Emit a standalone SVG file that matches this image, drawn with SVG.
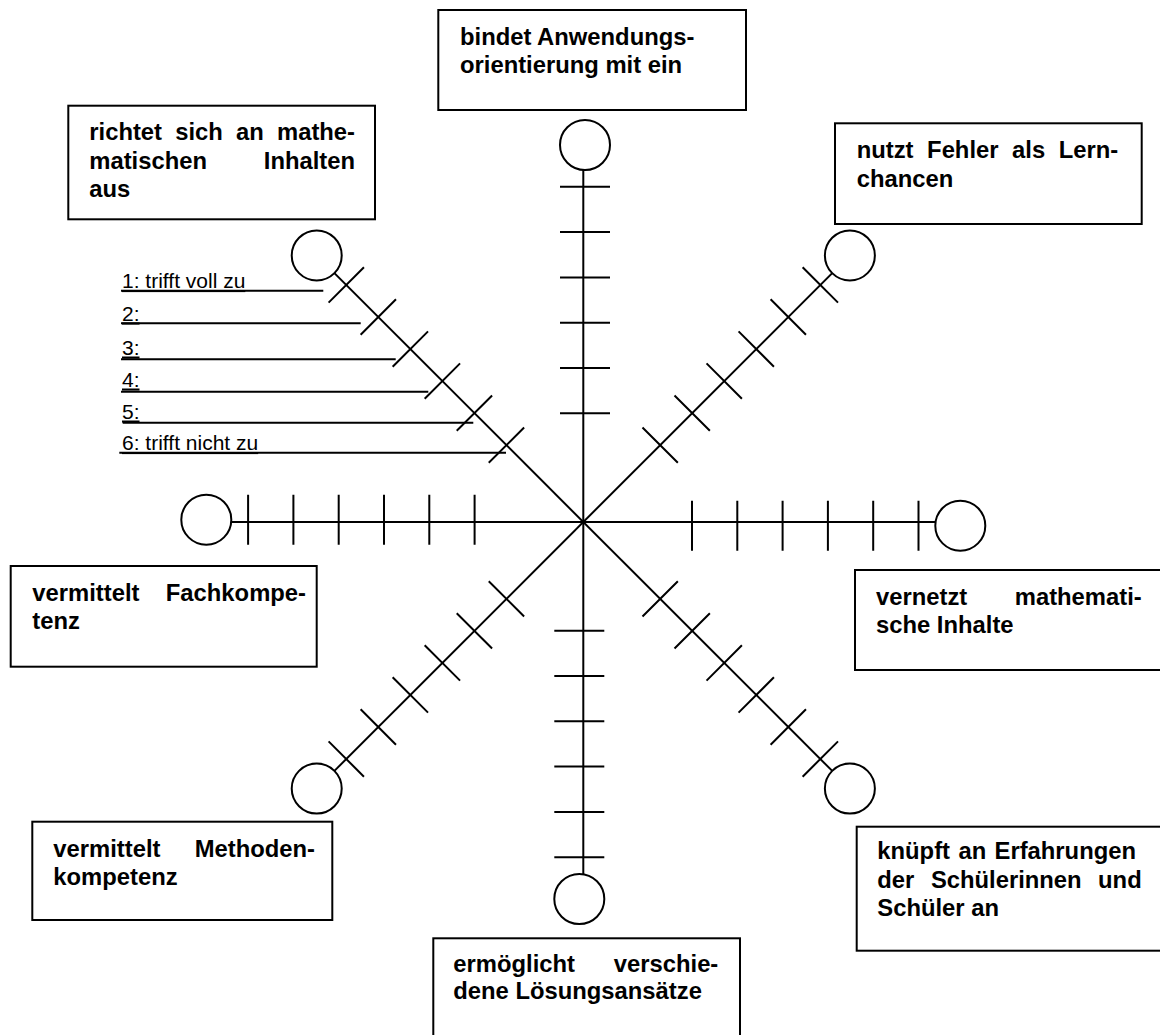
<svg xmlns="http://www.w3.org/2000/svg" xmlns:xlink="http://www.w3.org/1999/xlink" width="1160" height="1035" viewBox="0 0 1160 1035">
  <style>
    .ln { stroke: #000; stroke-width: 2; fill: none; }
    .box { fill: #fff; stroke: #000; stroke-width: 2; }
    .lbl { font-family: "Liberation Sans", Arial, sans-serif; font-weight: bold; font-size: 23.8px; fill: #000; }
    .end { text-anchor: end; }
    .leg { font-family: "Liberation Sans", Arial, sans-serif; font-size: 21px; fill: #000; text-decoration: underline; }
  </style>
  <defs>
    <!-- one rating scale pointing along +x: six ticks and the end circle -->
    <g id="scale" class="ln">
      <path d="M108.7 -25V25M154 -25V25M199.3 -25V25M244.6 -25V25M289.9 -25V25M335.2 -25V25"/>
      <circle cx="377" cy="0" r="25"/>
    </g>
  </defs>
  <rect width="1160" height="1035" fill="#fff"/>

  <!-- axes of the star -->
  <g id="connectors">
    <g class="ln">
      <line x1="583.3" y1="170" x2="583.3" y2="874.3"/>
      <line x1="231.2" y1="522" x2="935.6" y2="522"/>
      <line x1="334.4" y1="273.1" x2="832.2" y2="770.9"/>
      <line x1="832.2" y1="273.1" x2="334.4" y2="770.9"/>
    </g>
    <use xlink:href="#scale" transform="translate(583.3,525.7)"/>
    <use xlink:href="#scale" transform="translate(583.3,519.7) rotate(180)"/>
    <use xlink:href="#scale" transform="translate(585,522) rotate(-90)"/>
    <use xlink:href="#scale" transform="translate(579.3,522) rotate(90)"/>
    <use xlink:href="#scale" transform="translate(583.3,522) rotate(-45)"/>
    <use xlink:href="#scale" transform="translate(583.3,522) rotate(-135)"/>
    <use xlink:href="#scale" transform="translate(583.3,522) rotate(45)"/>
    <use xlink:href="#scale" transform="translate(583.3,522) rotate(135)"/>
  </g>

  <!-- rating key -->
  <g id="legend">
    <path class="ln" d="M121 290.7H323.3M121 323.3H360.7M121 359.3H395.7M121 391.7H428.3M122.7 422.7H473.3M119.3 452.7H506"/>
    <text class="leg" x="122" y="288">1: trifft voll zu</text>
    <text class="leg" x="122" y="320.5">2:</text>
    <text class="leg" x="122" y="354.5">3:</text>
    <text class="leg" x="122" y="386.5">4:</text>
    <text class="leg" x="122" y="418.5">5:</text>
    <text class="leg" x="122" y="450">6: trifft nicht zu</text>
  </g>

  <g id="node-anwendung">
    <rect class="box" x="438.3" y="10" width="307.7" height="100"/>
    <text class="lbl" x="460" y="45">bindet Anwendungs-</text>
    <text class="lbl" x="460" y="73">orientierung mit ein</text>
  </g>

  <g id="node-inhalte">
    <rect class="box" x="68.3" y="105.7" width="306.7" height="113.6"/>
    <text class="lbl" y="140"><tspan x="89.3">richtet</tspan><tspan x="175.2">sich</tspan><tspan x="236">an</tspan></text>
    <text class="lbl end" x="355" y="140">mathe-</text>
    <text class="lbl" x="89.3" y="168.5">matischen</text>
    <text class="lbl end" x="355" y="168.5">Inhalten</text>
    <text class="lbl" x="89.3" y="197">aus</text>
  </g>

  <g id="node-fehler">
    <rect class="box" x="835" y="123.3" width="306.7" height="100.7"/>
    <text class="lbl" y="158.3"><tspan x="856.7">nutzt</tspan><tspan x="927.1">Fehler</tspan><tspan x="1012.1">als</tspan></text>
    <text class="lbl end" x="1118.3" y="158.3">Lern-</text>
    <text class="lbl" x="856.7" y="186.7">chancen</text>
  </g>

  <g id="node-fachkompetenz">
    <rect class="box" x="10.7" y="566" width="306" height="100.7"/>
    <text class="lbl" x="32.3" y="601">vermittelt</text>
    <text class="lbl end" x="306" y="601">Fachkompe-</text>
    <text class="lbl" x="32.3" y="629">tenz</text>
  </g>

  <g id="node-vernetzt">
    <rect class="box" x="855" y="570" width="310" height="100"/>
    <text class="lbl" x="876" y="605">vernetzt</text>
    <text class="lbl end" x="1141.7" y="605">mathemati-</text>
    <text class="lbl" x="876" y="633">sche Inhalte</text>
  </g>

  <g id="node-methodenkompetenz">
    <rect class="box" x="32.3" y="821.7" width="300" height="98.3"/>
    <text class="lbl" x="53.3" y="856.7">vermittelt</text>
    <text class="lbl end" x="315" y="856.7">Methoden-</text>
    <text class="lbl" x="53.3" y="884.7">kompetenz</text>
  </g>

  <g id="node-erfahrungen">
    <rect class="box" x="856.7" y="826.7" width="310" height="124"/>
    <text class="lbl" y="859"><tspan x="877.3">knüpft</tspan><tspan x="958.4">an</tspan></text>
    <text class="lbl end" x="1136" y="859">Erfahrungen</text>
    <text class="lbl" y="887.5"><tspan x="877.3">der</tspan><tspan x="930.9">Schülerinnen</tspan></text>
    <text class="lbl end" x="1141.7" y="887.5">und</text>
    <text class="lbl" x="877.3" y="916">Schüler an</text>
  </g>

  <g id="node-loesungsansaetze">
    <rect class="box" x="433.3" y="938.3" width="306.7" height="100"/>
    <text class="lbl" x="453.3" y="971.7">ermöglicht</text>
    <text class="lbl end" x="718.3" y="971.7">verschie-</text>
    <text class="lbl" x="453.3" y="999">dene Lösungsansätze</text>
  </g>
</svg>
